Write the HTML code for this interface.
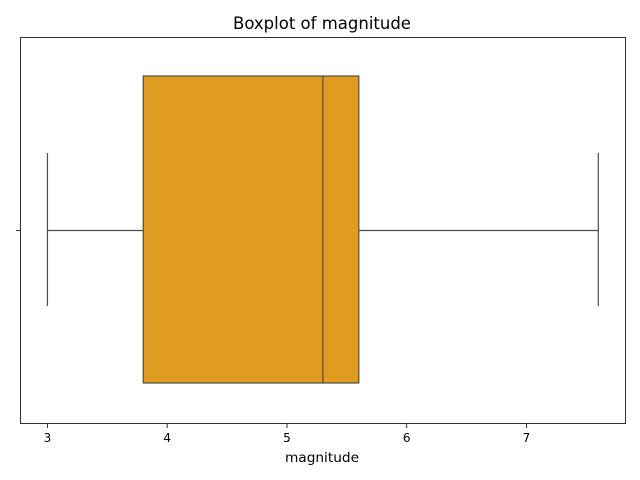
<!DOCTYPE html>
<html><head><meta charset="utf-8"><style>body{margin:0;background:#fff}svg{display:block;font-family:"DejaVu Sans","Liberation Sans",sans-serif}</style></head>
<body>
<svg width="640" height="480">
<text x="322" y="29" text-anchor="middle" font-size="16.5">Boxplot of magnitude</text>
<g id="plot"></g>
<rect x="20.5" y="37.5" width="605" height="386" fill="none" stroke="#000" stroke-width="0.8"/>
<line x1="16" x2="20" y1="230.5" y2="230.5" stroke="#000" stroke-width="0.8"/>
<text x="322" y="462" text-anchor="middle" font-size="13.7">magnitude</text>
</svg>
<script>
const ticks=[3,4,5,6,7];
const stats=[3.0,3.8,5.3,5.6,7.6]; // whisker-low, q1, median, q3, whisker-high
const xmin=2.775,xmax=7.827,L=20.5,R=625.5;
const sx=v=>L+(v-xmin)/(xmax-xmin)*(R-L);
const ns="http://www.w3.org/2000/svg";
const svg=document.querySelector('svg');
const g=document.getElementById('plot');
function mk(t,a,p){const e=document.createElementNS(ns,t);for(const k in a)e.setAttribute(k,a[k]);(p||g).appendChild(e);return e;}
const cy=230.5,bt=76,bb=383,ct=153,cb=306,st="#4d4d4d";
let e;
e=mk('line',{x1:sx(stats[0]),x2:sx(stats[1]),y1:cy,y2:cy,stroke:st,'stroke-width':1.2});


e=mk('line',{x1:sx(stats[3]),x2:sx(stats[4]),y1:cy,y2:cy,stroke:st,'stroke-width':1.2});


e=mk('line',{x1:sx(stats[0]),x2:sx(stats[0]),y1:ct,y2:cb,stroke:st,'stroke-width':1.2});


e=mk('line',{x1:sx(stats[4]),x2:sx(stats[4]),y1:ct,y2:cb,stroke:st,'stroke-width':1.2});


e=mk('rect',{x:sx(stats[1]),y:bt,width:sx(stats[3])-sx(stats[1]),height:bb-bt,fill:"#e09c20",stroke:st,'stroke-width':1.2});


e=mk('line',{x1:sx(stats[2]),x2:sx(stats[2]),y1:bt,y2:bb,stroke:st,'stroke-width':1.2});


ticks.forEach(t=>{
 const x=sx(t);
 let l=mk('line',{x1:x,x2:x,y1:423.5,y2:428,stroke:"#000",'stroke-width':0.8},svg);
 
 
 let tx=mk('text',{x:x,y:442,'text-anchor':'middle','font-size':12},svg);
 tx.textContent=t;
 
 
});
</script>
</body></html>
